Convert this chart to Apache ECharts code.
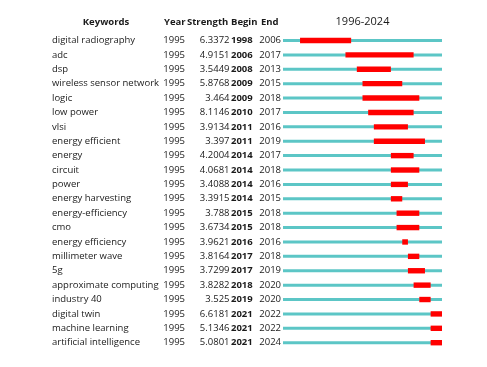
<!DOCTYPE html>
<html>
<head>
<meta charset="utf-8">
<script src="https://cdn.jsdelivr.net/npm/echarts@6/dist/echarts.min.js"></script>
<style>html,body{margin:0;padding:0;background:#fff;}#c{width:487px;height:367px;}</style>
</head>
<body>
<div id="c"></div>
<script>
var keywords = ['digital radiography','adc','dsp','wireless sensor network','logic','low power','vlsi','energy efficient','energy','circuit','power','energy harvesting','energy-efficiency','cmo','energy efficiency','millimeter wave','5g','approximate computing','industry 40','digital twin','machine learning','artificial intelligence'];
var years = [1995,1995,1995,1995,1995,1995,1995,1995,1995,1995,1995,1995,1995,1995,1995,1995,1995,1995,1995,1995,1995,1995];
var strength = ['6.3372','4.9151','3.5449','5.8768','3.464','8.1146','3.9134','3.397','4.2004','4.0681','3.4088','3.3915','3.788','3.6734','3.9621','3.8164','3.7299','3.8282','3.525','6.6181','5.1346','5.0801'];
var begin = [1998,2006,2008,2009,2009,2010,2011,2011,2014,2014,2014,2014,2015,2015,2016,2017,2017,2018,2019,2021,2021,2021];
var end = [2006,2017,2013,2015,2018,2017,2016,2019,2017,2018,2016,2015,2018,2018,2016,2018,2019,2020,2020,2022,2022,2024];
var headers = ['Keywords','Year','Strength','Begin','End'];
var title = '1996-2024';
var axisMin = 1995, axisMax = 2023;

var FONT = 'Open Sans';
var FS = 9.5;
var TXT = '#1a1a1a';
var GL = 283;

function colAxis(data, margin, align, bold) {
  return {
    type: 'category', inverse: true, data: data, position: 'left', offset: 0,
    axisLine: {show: false, onZero: false}, axisTick: {show: false}, splitLine: {show: false},
    axisLabel: {interval: 0, margin: margin, align: align, fontSize: FS, fontFamily: FONT,
      color: TXT, fontWeight: bold ? 'bold' : 'normal', padding: [0,0,7,0]}
  };
}

var bars = begin.map(function(b, i){ return [b, end[i], i]; });
var lines = keywords.map(function(k, i){ return [i]; });

var HF = 'bold ' + FS + 'px "Open Sans"';
var HY = 22.5;
var chart = echarts.init(document.getElementById('c'), null, {renderer: 'canvas'});
chart.setOption({
  animation: false,
  backgroundColor: '#fff',
  grid: {left: GL, right: 45, top: 33.3, bottom: 17.1},
  xAxis: {type: 'value', min: axisMin, max: axisMax, show: false},
  yAxis: [
    colAxis(keywords, GL - 52, 'left', false),
    colAxis(years.map(String), GL - 163.3, 'left', false),
    colAxis(strength, GL - 229.5, 'right', false),
    colAxis(begin.map(String), GL - 231, 'left', true),
    colAxis(end.map(String), GL - 259.3, 'left', false)
  ],
  graphic: [
    {type: 'text', x: 106, y: HY, style: {text: headers[0], font: HF, fill: TXT, align: 'center', verticalAlign: 'middle'}},
    {type: 'text', x: 164, y: HY, style: {text: headers[1], font: HF, fill: TXT, align: 'left', verticalAlign: 'middle'}},
    {type: 'text', x: 187, y: HY, style: {text: headers[2], font: HF, fill: TXT, align: 'left', verticalAlign: 'middle'}},
    {type: 'text', x: 231, y: HY, style: {text: headers[3], font: HF, fill: TXT, align: 'left', verticalAlign: 'middle'}},
    {type: 'text', x: 261, y: HY, style: {text: headers[4], font: HF, fill: TXT, align: 'left', verticalAlign: 'middle'}},
    {type: 'text', x: 362.5, y: 21.5, style: {text: title, font: '11px "Open Sans"', fill: TXT, align: 'center', verticalAlign: 'middle'}}
  ],
  series: [
    {
      type: 'custom', yAxisIndex: 0, data: lines, encode: {y: 0},
      renderItem: function(params, api) {
        var cs = params.coordSys;
        var y = api.coord([axisMin, api.value(0)])[1];
        return {type: 'rect', shape: {x: cs.x, y: y - 1.5, width: cs.width, height: 3}, style: {fill: '#5cc6c6'}};
      }
    },
    {
      type: 'custom', yAxisIndex: 0, data: bars, encode: {x: [0, 1], y: 2},
      renderItem: function(params, api) {
        var cs = params.coordSys;
        var p1 = api.coord([api.value(0), api.value(2)]);
        var p2 = api.coord([api.value(1) + 1, api.value(2)]);
        var x2 = Math.min(p2[0], cs.x + cs.width);
        return {type: 'rect', shape: {x: p1[0], y: p1[1] - 2.7, width: x2 - p1[0], height: 5.4}, style: {fill: '#ff0000'}};
      }
    }
  ]
});
</script>
</body>
</html>
